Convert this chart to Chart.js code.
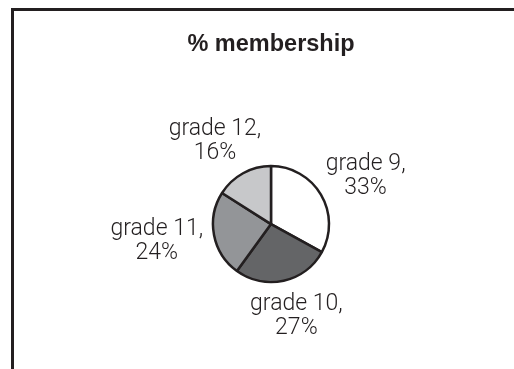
<!DOCTYPE html>
<html>
<head>
<meta charset="utf-8">
<script src="https://cdn.jsdelivr.net/npm/chart.js@4/dist/chart.umd.min.js"></script>
<style>
  html, body { margin: 0; padding: 0; background: #fff; overflow: hidden; }
  #frame {
    position: absolute; left: 11px; top: 8px; width: 600px; height: 500px;
    border-top: 3px solid #231f20; border-left: 3px solid #231f20;
  }
  #wrap { position: absolute; left: 0; top: 0; width: 514px; height: 400px; }
</style>
</head>
<body>
<div id="frame"></div>
<div id="wrap"><canvas id="pieChart" width="514" height="400"></canvas></div>
<script>
// membership share by grade
const grades = ['grade 9', 'grade 10', 'grade 11', 'grade 12'];
const shares = [33, 27, 24, 16];
const sliceColors = ['#ffffff', '#646567', '#939598', '#c7c8ca'];

const labelFont = '300 23px Roboto';
const labelLineH = 24;

// "grade N," / "NN%" written outside each slice, pushed out along its middle angle
const sliceLabels = {
    id: 'sliceLabels',
    afterDatasetsDraw(chart) {
        const ctx = chart.ctx;
        const meta = chart.getDatasetMeta(0);
        ctx.save();
        ctx.font = labelFont;
        ctx.fillStyle = '#231f20';
        ctx.textAlign = 'center';
        ctx.textBaseline = 'middle';
        meta.data.forEach((arc, i) => {
            const p = arc.getProps(['x', 'y', 'startAngle', 'endAngle', 'outerRadius'], true);
            const mid = (p.startAngle + p.endAngle) / 2;
            const dx = Math.cos(mid), dy = Math.sin(mid);
            const lines = [grades[i] + ',', shares[i] + '%'];
            const w = Math.max(...lines.map(l => ctx.measureText(l).width));
            const h = lines.length * labelLineH;
            const r = p.outerRadius + 12;
            const cx = p.x + dx * r + dx * w / 2;
            const cy = p.y + dy * r + dy * h / 2;
            lines.forEach((line, j) => {
                ctx.fillText(line, cx, cy - h / 2 + labelLineH * (j + 0.5));
            });
        });
        ctx.restore();
    }
};

new Chart(document.getElementById('pieChart'), {
    type: 'pie',
    data: {
        labels: grades,
        datasets: [{
            data: shares,
            backgroundColor: sliceColors,
            borderColor: '#231f20',
            borderWidth: 2.5
        }]
    },
    options: {
        responsive: false,
        animation: false,
        radius: 58,
        layout: { padding: { left: 28, right: 0, top: 0, bottom: 10 } },
        plugins: {
            legend: { display: false },
            tooltip: { enabled: false },
            title: {
                display: true,
                text: '% membership',
                color: '#231f20',
                font: { family: "'Liberation Sans', Arial, sans-serif", size: 23.5, weight: 'bold' },
                padding: { top: 30, bottom: 0 }
            }
        }
    },
    plugins: [sliceLabels]
});
</script>
</body>
</html>
